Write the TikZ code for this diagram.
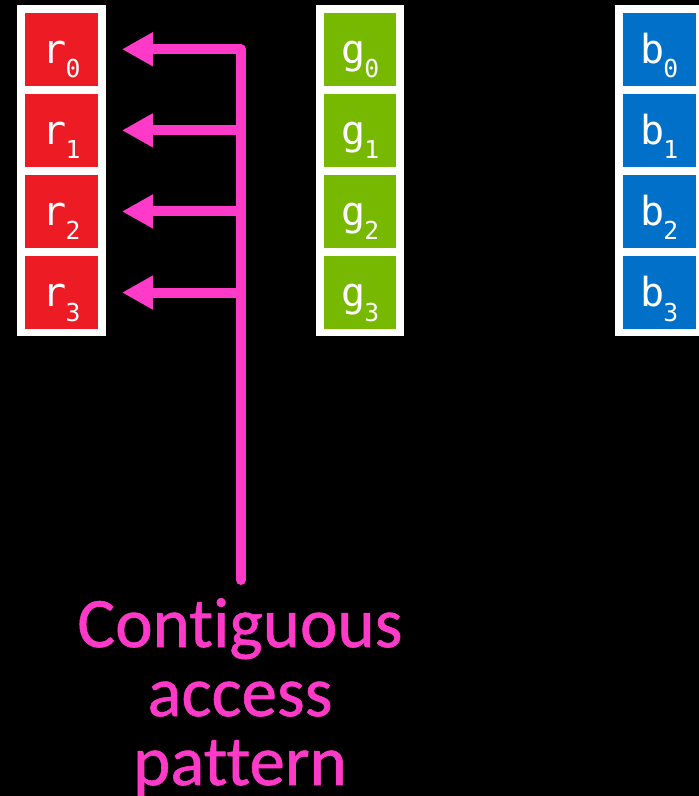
\documentclass[tikz,border=0pt]{standalone}
\usepackage{fontspec}
\usepackage{tikz}
\usetikzlibrary{arrows.meta,positioning}

\newfontfamily\cellfont{DejaVu Sans Mono}
\newfontfamily\notefont[RawFeature={-liga;-clig;-calt}, FakeBold=0.8]{Carlito}

\definecolor{redc}{HTML}{ED1C24}
\definecolor{greenc}{HTML}{76B900}
\definecolor{bluec}{HTML}{0070C8}
\definecolor{pinkc}{HTML}{FF3AC8}

% channel letter with a lowered index
\newcommand{\cellname}[2]{#1\kern-1pt\raisebox{-14.7pt}{\fontsize{24.7}{26}\selectfont #2}}

\begin{document}
\begin{tikzpicture}[
  x=1pt, y=1pt,
  >={Triangle[length=31pt,width=32pt]},
  node distance=8.2pt,
  column/.style={fill=white, minimum width=88.5pt, minimum height=330.6pt, inner sep=0pt},
  cell/.style={minimum width=72.5pt, minimum height=72.5pt, inner sep=0pt, text height=30pt, text depth=2.4pt, text=white, font=\cellfont\fontsize{40}{44}\selectfont},
  redcell/.style={cell, fill=redc},
  greencell/.style={cell, fill=greenc},
  bluecell/.style={cell, fill=bluec},
  access/.style={->, draw=pinkc, line width=10pt, line join=round, shorten >=24pt}
]

\useasboundingbox (0,0) rectangle (699,-796);
\fill[black] (0,0) rectangle (699,-796);

% red channel
\node[column] (redCol) at (61.5,-170.3) {};
\node[redcell, below=8pt of redCol.north] (r0) {\cellname{r}{0}};
\node[redcell, below=of r0] (r1) {\cellname{r}{1}};
\node[redcell, below=of r1] (r2) {\cellname{r}{2}};
\node[redcell, below=of r2] (r3) {\cellname{r}{3}};

% green channel
\node[column] (greenCol) at (360.2,-170.3) {};
\node[greencell, below=8pt of greenCol.north] (g0) {\cellname{g}{0}};
\node[greencell, below=of g0] (g1) {\cellname{g}{1}};
\node[greencell, below=of g1] (g2) {\cellname{g}{2}};
\node[greencell, below=of g2] (g3) {\cellname{g}{3}};

% blue channel
\node[column] (blueCol) at (659.3,-170.3) {};
\node[bluecell, below=8pt of blueCol.north] (b0) {\cellname{b}{0}};
\node[bluecell, below=of b0] (b1) {\cellname{b}{1}};
\node[bluecell, below=of b1] (b2) {\cellname{b}{2}};
\node[bluecell, below=of b2] (b3) {\cellname{b}{3}};

% access arrows into the red channel
\coordinate (spineEnd) at (241,-580);
\node[anchor=north, align=center, inner sep=0pt, text=pinkc, font=\notefont\fontsize{71}{69}\selectfont] (note) at (240,-598) {Cont\kern0pt iguous\\access\\pattern};

\draw[access, line cap=round] (spineEnd) -- (spineEnd |- r0) -- (r0.east);
\draw[access] (spineEnd |- r1) -- (r1.east);
\draw[access] (spineEnd |- r2) -- (r2.east);
\draw[access] (spineEnd |- r3) -- (r3.east);

\end{tikzpicture}
\end{document}
